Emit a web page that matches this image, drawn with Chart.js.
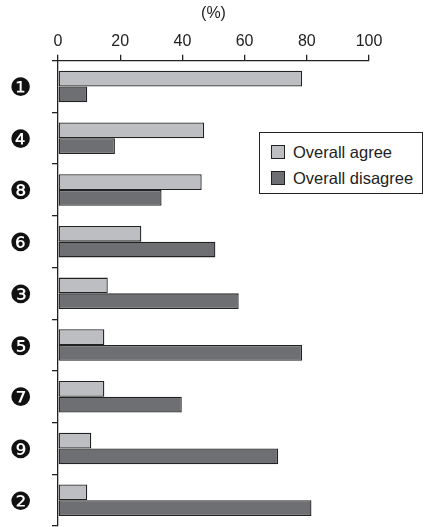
<!DOCTYPE html>
<html>
<head>
<meta charset="utf-8">
<script src="https://cdn.jsdelivr.net/npm/chart.js@4"></script>
<style>
  html, body { margin: 0; padding: 0; background: #fff; overflow: hidden; }
  #wrap { position: relative; width: 424px; height: 527px; }
  #legend {
    position: absolute; left: 259px; top: 132px; width: 162px; height: 60px;
    border: 1.3px solid #222; background: #fff;
    font-family: "Liberation Sans", Arial, sans-serif; font-size: 16.5px; color: #222;
  }
  .item { position: absolute; left: 11px; height: 20px; line-height: 20px; white-space: nowrap; }
  .sw { display: inline-block; width: 12px; height: 12px; border: 1px solid #222; vertical-align: -1px; margin-right: 8px; }
</style>
</head>
<body>
<div id="wrap">
  <canvas id="chart" width="424" height="527"></canvas>
  <div id="legend"></div>
</div>
<script>
const categories = ['❶', '❹', '❽', '❻', '❸', '❺', '❼', '❾', '❷'];
const agreeValues = [78.5, 47, 46.2, 26.8, 16, 14.9, 14.9, 10.7, 9.4];
const disagreeValues = [9.4, 18.3, 33.3, 50.6, 58.1, 78.5, 39.8, 70.8, 81.5];
const xTicks = [0, 20, 40, 60, 80, 100];

const seriesNames = ['Overall agree', 'Overall disagree'];
const seriesColors = ['#bdbec2', '#6e6f73'];

const ctx = document.getElementById('chart').getContext('2d');

new Chart(ctx, {
    type: 'bar',
    data: {
        labels: categories,
        datasets: [
            {
                label: seriesNames[0],
                data: agreeValues,
                backgroundColor: seriesColors[0],
                borderColor: '#222',
                borderWidth: 1.3,
                borderSkipped: false,
                categoryPercentage: 0.61,
                barPercentage: 1.0
            },
            {
                label: seriesNames[1],
                data: disagreeValues,
                backgroundColor: seriesColors[1],
                borderColor: '#222',
                borderWidth: 1.3,
                borderSkipped: false,
                categoryPercentage: 0.61,
                barPercentage: 1.0
            }
        ]
    },
    options: {
        indexAxis: 'y',
        responsive: false,
        animation: false,
        layout: { padding: { left: 0, right: 55, top: 0, bottom: 1 } },
        plugins: {
            legend: { display: false },
            tooltip: { enabled: false }
        },
        scales: {
            x: {
                position: 'top',
                min: 0,
                max: 100,
                afterFit: scale => { scale.height = 60.7; },
                afterBuildTicks: scale => { scale.ticks = xTicks.map(v => ({ value: v })); },
                ticks: {
                    color: '#222',
                    padding: 4,
                    font: { family: 'Liberation Sans', size: 16 }
                },
                grid: { drawOnChartArea: false, tickLength: 6, color: '#222', lineWidth: 1.3 },
                border: { color: '#222', width: 1.3 },
                title: {
                    display: true,
                    text: '(%)',
                    color: '#222',
                    padding: { top: 4, bottom: 0 },
                    font: { family: 'Liberation Sans', size: 16 }
                }
            },
            y: {
                offset: true,
                afterFit: scale => {
                    scale.width = 58;
                    // label padding should not shrink the plot vertically
                    scale.paddingTop = 0;
                    scale.paddingBottom = 0;
                },
                ticks: {
                    color: '#111',
                    padding: 20,
                    labelOffset: 3,
                    font: { family: 'DejaVu Sans', size: 25 }
                },
                grid: { offset: true, drawOnChartArea: false, tickLength: 6, color: '#222', lineWidth: 1.3 },
                border: { color: '#222', width: 1.3 }
            }
        }
    }
});

// legend as html, built from the series
const legend = document.getElementById('legend');
legend.innerHTML = seriesNames.map((name, i) => `
    <div class="item" style="top:${9 + i * 26}px"><span class="sw" style="background:${seriesColors[i]}"></span>${name}</div>
`).join('');
</script>
</body>
</html>
